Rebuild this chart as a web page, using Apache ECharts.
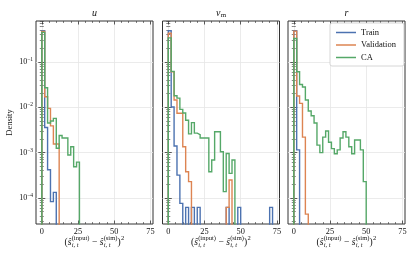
<!DOCTYPE html>
<html><head><meta charset="utf-8">
<script src="https://cdn.jsdelivr.net/npm/echarts@6/dist/echarts.min.js"></script>
<style>html,body{margin:0;padding:0;background:#fff}#c{width:415px;height:260px}</style>
</head><body><div id="c"></div>
<script>
// ---------- data (densities per bin, bins of width 2 starting at 0; 0 = empty bin) ----------
const seriesNames = ['Train', 'Validation', 'CA'];
const seriesColors = ['#4C72B0', '#DD8452', '#55A868'];
const binStart = 0;
const binWidth = 2;

const uTrain = [0.49, 0.0036, 4.2e-4, 8.3e-5, 1.33e-4];
const uValidation = [0.47, 0.0171, 0.0095, 0.0039, 0.00155, 0.00155];
const uCA = [0.45, 0.027, 0.0045, 0.0050, 0.0057, 0.00125, 0.0024, 0.0021, 0.0021, 0.00089, 0.00135, 0.00049, 0.00062];

const vmTrain = [0.49, 0.0102, 0.0014, 3.2e-4, 7.6e-5, 0, 6.2e-5, 0, 6.2e-5, 0, 6.2e-5, 0, 0, 0, 0, 0, 0, 0, 0, 0,
                 6.2e-5, 0, 0, 0, 6.2e-5, 0, 0, 0, 0, 0, 0, 0, 0, 0, 0, 6.2e-5];
const vmValidation = [0.43, 0.061, 0.0145, 0.0074, 0.0074, 0.00135, 3.8e-4, 2.3e-4, 0, 0, 0, 0, 0, 0, 0, 0, 0, 0, 0, 0,
                      6.2e-5, 2.5e-4];
const vmCA = [0.34, 0.062, 0.018, 0.016, 0.009, 0.0075, 0.0052, 0.0026, 0.0046, 0.0027, 0.0025, 0.0021, 0.0021, 0.0021,
              0.00038, 0.00069, 0.0029, 0.0029, 0.00105, 0.000138, 0.00096, 0.00035, 0.00069];

const rTrain = [0.49, 0.00115];
const rValidation = [0.48, 0.0178, 0.0122, 0.0022, 4.4e-5];
const rCA = [0.33, 0.061, 0.032, 0.028, 0.0145, 0.0083, 0.0065, 0.0045, 0.00147, 0.001, 0.0022, 0.003, 0.0017, 0.00123,
             0.00095, 0.00115, 0.0021, 0.0029, 0.0022, 0.00135, 0.00095, 0.0019, 0.0019, 0.00115, 0.00023];

const panelData = [[uTrain, uValidation, uCA], [vmTrain, vmValidation, vmCA], [rTrain, rValidation, rCA]];
const panelTitles = [['u', ''], ['v', 'm'], ['r', '']];

const xMajorTicks = [0, 25, 50, 75];
const xMinorTicks = [5, 10, 15, 20, 30, 35, 40, 45, 55, 60, 65, 70];
const yMajorTicks = [1e-4, 1e-3, 1e-2, 1e-1];
const yMajorLabels = ['−4', '−3', '−2', '−1'];
const yMinorMantissas = [2, 3, 4, 5, 6, 7, 8, 9];
const yMinorDecades = [1e-5, 1e-4, 1e-3, 1e-2, 1e-1];

// ---------- layout ----------
const X_MIN = -4.0, X_MAX = 76.8;
const Y_MIN = 2.67e-5, Y_MAX = 0.8025;
const GRID_TOP = 21, GRID_H = 203, GRID_W = 117;
const gridLefts = [36, 162.5, 288];
const SERIF = "'Liberation Serif', 'Times New Roman', serif";
const FRAME = '#333';
const TEXT = '#111';

const yMinorTicks = [];
yMinorDecades.forEach(d => yMinorMantissas.forEach(m => { const v = m * d; if (v > Y_MIN && v < Y_MAX) yMinorTicks.push(v); }));

const FLOOR = 1e-9;
function stepPoints(h) {
  const pts = [[binStart, FLOOR]];
  h.forEach((v, i) => {
    const y = v > 0 ? v : FLOOR;
    pts.push([binStart + i * binWidth, y], [binStart + (i + 1) * binWidth, y]);
  });
  pts.push([binStart + h.length * binWidth, FLOOR]);
  return pts;
}

const grids = [], xAxes = [], yAxes = [], series = [];
gridLefts.forEach((left, p) => {
  grids.push({ left: left, top: GRID_TOP, width: GRID_W, height: GRID_H, show: true,
               borderColor: FRAME, borderWidth: 1, backgroundColor: 'transparent' });
  const xBase = { type: 'value', gridIndex: p, min: X_MIN, max: X_MAX, axisLine: { show: false } };
  xAxes.push(Object.assign({}, xBase, {
    position: 'bottom',
    axisTick: { show: true, inside: true, length: 3.5, customValues: xMajorTicks, lineStyle: { color: FRAME, width: 0.8 } },
    axisLabel: { show: true, customValues: xMajorTicks, margin: 3.5, fontFamily: SERIF, fontSize: 8.3, color: TEXT },
    splitLine: { show: true, lineStyle: { color: '#e6e6e6', width: 0.8 } }
  }));
  xAxes.push(Object.assign({}, xBase, {
    position: 'bottom',
    axisTick: { show: true, inside: true, length: 2, customValues: xMinorTicks, lineStyle: { color: FRAME, width: 0.6 } },
    axisLabel: { show: false }, splitLine: { show: false }
  }));
  xAxes.push(Object.assign({}, xBase, {
    position: 'top',
    axisTick: { show: true, inside: true, length: 3.5, customValues: xMajorTicks, lineStyle: { color: FRAME, width: 0.8 } },
    axisLabel: { show: false }, splitLine: { show: false }
  }));
  xAxes.push(Object.assign({}, xBase, {
    position: 'top',
    axisTick: { show: true, inside: true, length: 2, customValues: xMinorTicks, lineStyle: { color: FRAME, width: 0.6 } },
    axisLabel: { show: false }, splitLine: { show: false }
  }));

  const yBase = { type: 'log', logBase: 10, gridIndex: p, min: Y_MIN, max: Y_MAX, axisLine: { show: false } };
  yAxes.push(Object.assign({}, yBase, {
    position: 'left',
    name: p === 0 ? 'Density' : '', nameLocation: 'middle', nameGap: 22, nameRotate: 90,
    nameTextStyle: { fontFamily: SERIF, fontSize: 8.5, color: TEXT },
    axisTick: { show: true, inside: true, length: 3.5, customValues: yMajorTicks, lineStyle: { color: FRAME, width: 0.8 } },
    axisLabel: {
      show: p === 0, customValues: yMajorTicks, margin: 3,
      formatter: function (v) { const i = yMajorTicks.findIndex(t => Math.abs(Math.log10(t) - Math.log10(v)) < 1e-6); return '{b|10}{s|' + yMajorLabels[i] + '}'; },
      rich: { b: { fontFamily: SERIF, fontSize: 8, color: TEXT, lineHeight: 11 },
              s: { fontFamily: SERIF, fontSize: 5.5, color: TEXT, verticalAlign: 'top', lineHeight: 6 } }
    },
    splitLine: { show: true, lineStyle: { color: '#e6e6e6', width: 0.8 } }
  }));
  yAxes.push(Object.assign({}, yBase, {
    position: 'left',
    axisTick: { show: true, inside: true, length: 2, customValues: yMinorTicks, lineStyle: { color: FRAME, width: 0.6 } },
    axisLabel: { show: false }, splitLine: { show: false }
  }));
  yAxes.push(Object.assign({}, yBase, {
    position: 'right',
    axisTick: { show: true, inside: true, length: 3.5, customValues: yMajorTicks, lineStyle: { color: FRAME, width: 0.8 } },
    axisLabel: { show: false }, splitLine: { show: false }
  }));
  yAxes.push(Object.assign({}, yBase, {
    position: 'right',
    axisTick: { show: true, inside: true, length: 2, customValues: yMinorTicks, lineStyle: { color: FRAME, width: 0.6 } },
    axisLabel: { show: false }, splitLine: { show: false }
  }));

  panelData[p].forEach((h, s) => {
    series.push({
      type: 'line', name: seriesNames[s], xAxisIndex: p * 4, yAxisIndex: p * 4,
      data: stepPoints(h), symbol: 'none', showSymbol: false, clip: true,
      lineStyle: { color: seriesColors[s], width: 1.4, join: 'miter' },
      itemStyle: { color: seriesColors[s] },
      z: 3 + s, animation: false, emphasis: { disabled: true }
    });
  });
});

// ---------- text graphics (titles, x labels) ----------
const ctx2d = document.createElement('canvas').getContext('2d');
function tw(text, size, italic) { ctx2d.font = (italic ? 'italic ' : '') + size + 'px ' + SERIF; return ctx2d.measureText(text).width; }
function txt(x, y, text, size, italic, align) {
  return { type: 'text', x: x, y: y, silent: true,
           style: { text: text, fontFamily: SERIF, fontSize: size, fontStyle: italic ? 'italic' : 'normal', fill: TEXT,
                    align: align || 'left', verticalAlign: 'middle' } };
}
const graphics = [];
gridLefts.forEach((left, p) => {
  const cx = left + GRID_W / 2;
  const T = 10, TS = 7;
  const [main, sub] = panelTitles[p];
  const wMain = tw(main, T, true), wSub = sub ? tw(sub, TS, false) : 0;
  const x0 = cx - (wMain + wSub) / 2;
  graphics.push(txt(x0, 13, main, T, true));
  if (sub) graphics.push(txt(x0 + wMain + 0.3, 15.5, sub, TS, false));
  const M = 9.5, S = 6.5;
  const seq = [
    { t: '(', s: M }, { t: 'ŝ', s: M, it: true },
    { sup: '(input)', sub: 'i, t' },
    { t: ' − ', s: M }, { t: 'ŝ', s: M, it: true },
    { sup: '(sim)', sub: 'i, t' },
    { t: ')', s: M }, { sup: '2' }
  ];
  const widths = seq.map(e => e.t !== undefined ? tw(e.t, e.s, e.it) : Math.max(tw(e.sup, S, false), e.sub ? tw(e.sub, S, true) : 0) + 0.5);
  const total = widths.reduce((a, b) => a + b, 0);
  let x = cx - total / 2;
  const cy = 242;
  seq.forEach((e, i) => {
    if (e.t !== undefined) graphics.push(txt(x, cy, e.t, e.s, e.it));
    else {
      graphics.push(txt(x + 0.3, cy - 4, e.sup, S, false));
      if (e.sub) graphics.push(txt(x + 0.3, cy + 3, e.sub, S, true));
    }
    x += widths[i];
  });
});

const chart = echarts.init(document.getElementById('c'), null, { renderer: 'canvas' });
chart.setOption({
  animation: false,
  backgroundColor: '#fff',
  grid: grids, xAxis: xAxes, yAxis: yAxes, series: series,
  legend: {
    data: seriesNames, orient: 'vertical', left: 330, top: 23,
    itemWidth: 20, itemHeight: 1.5, icon: 'rect', itemGap: 3.5,
    padding: [5, 8, 4, 6], backgroundColor: '#fff', borderColor: '#cccccc', borderWidth: 0.8, borderRadius: 2,
    textStyle: { fontFamily: SERIF, fontSize: 8.5, color: TEXT }, selectedMode: false
  },
  graphic: graphics
});
</script>
</body></html>
